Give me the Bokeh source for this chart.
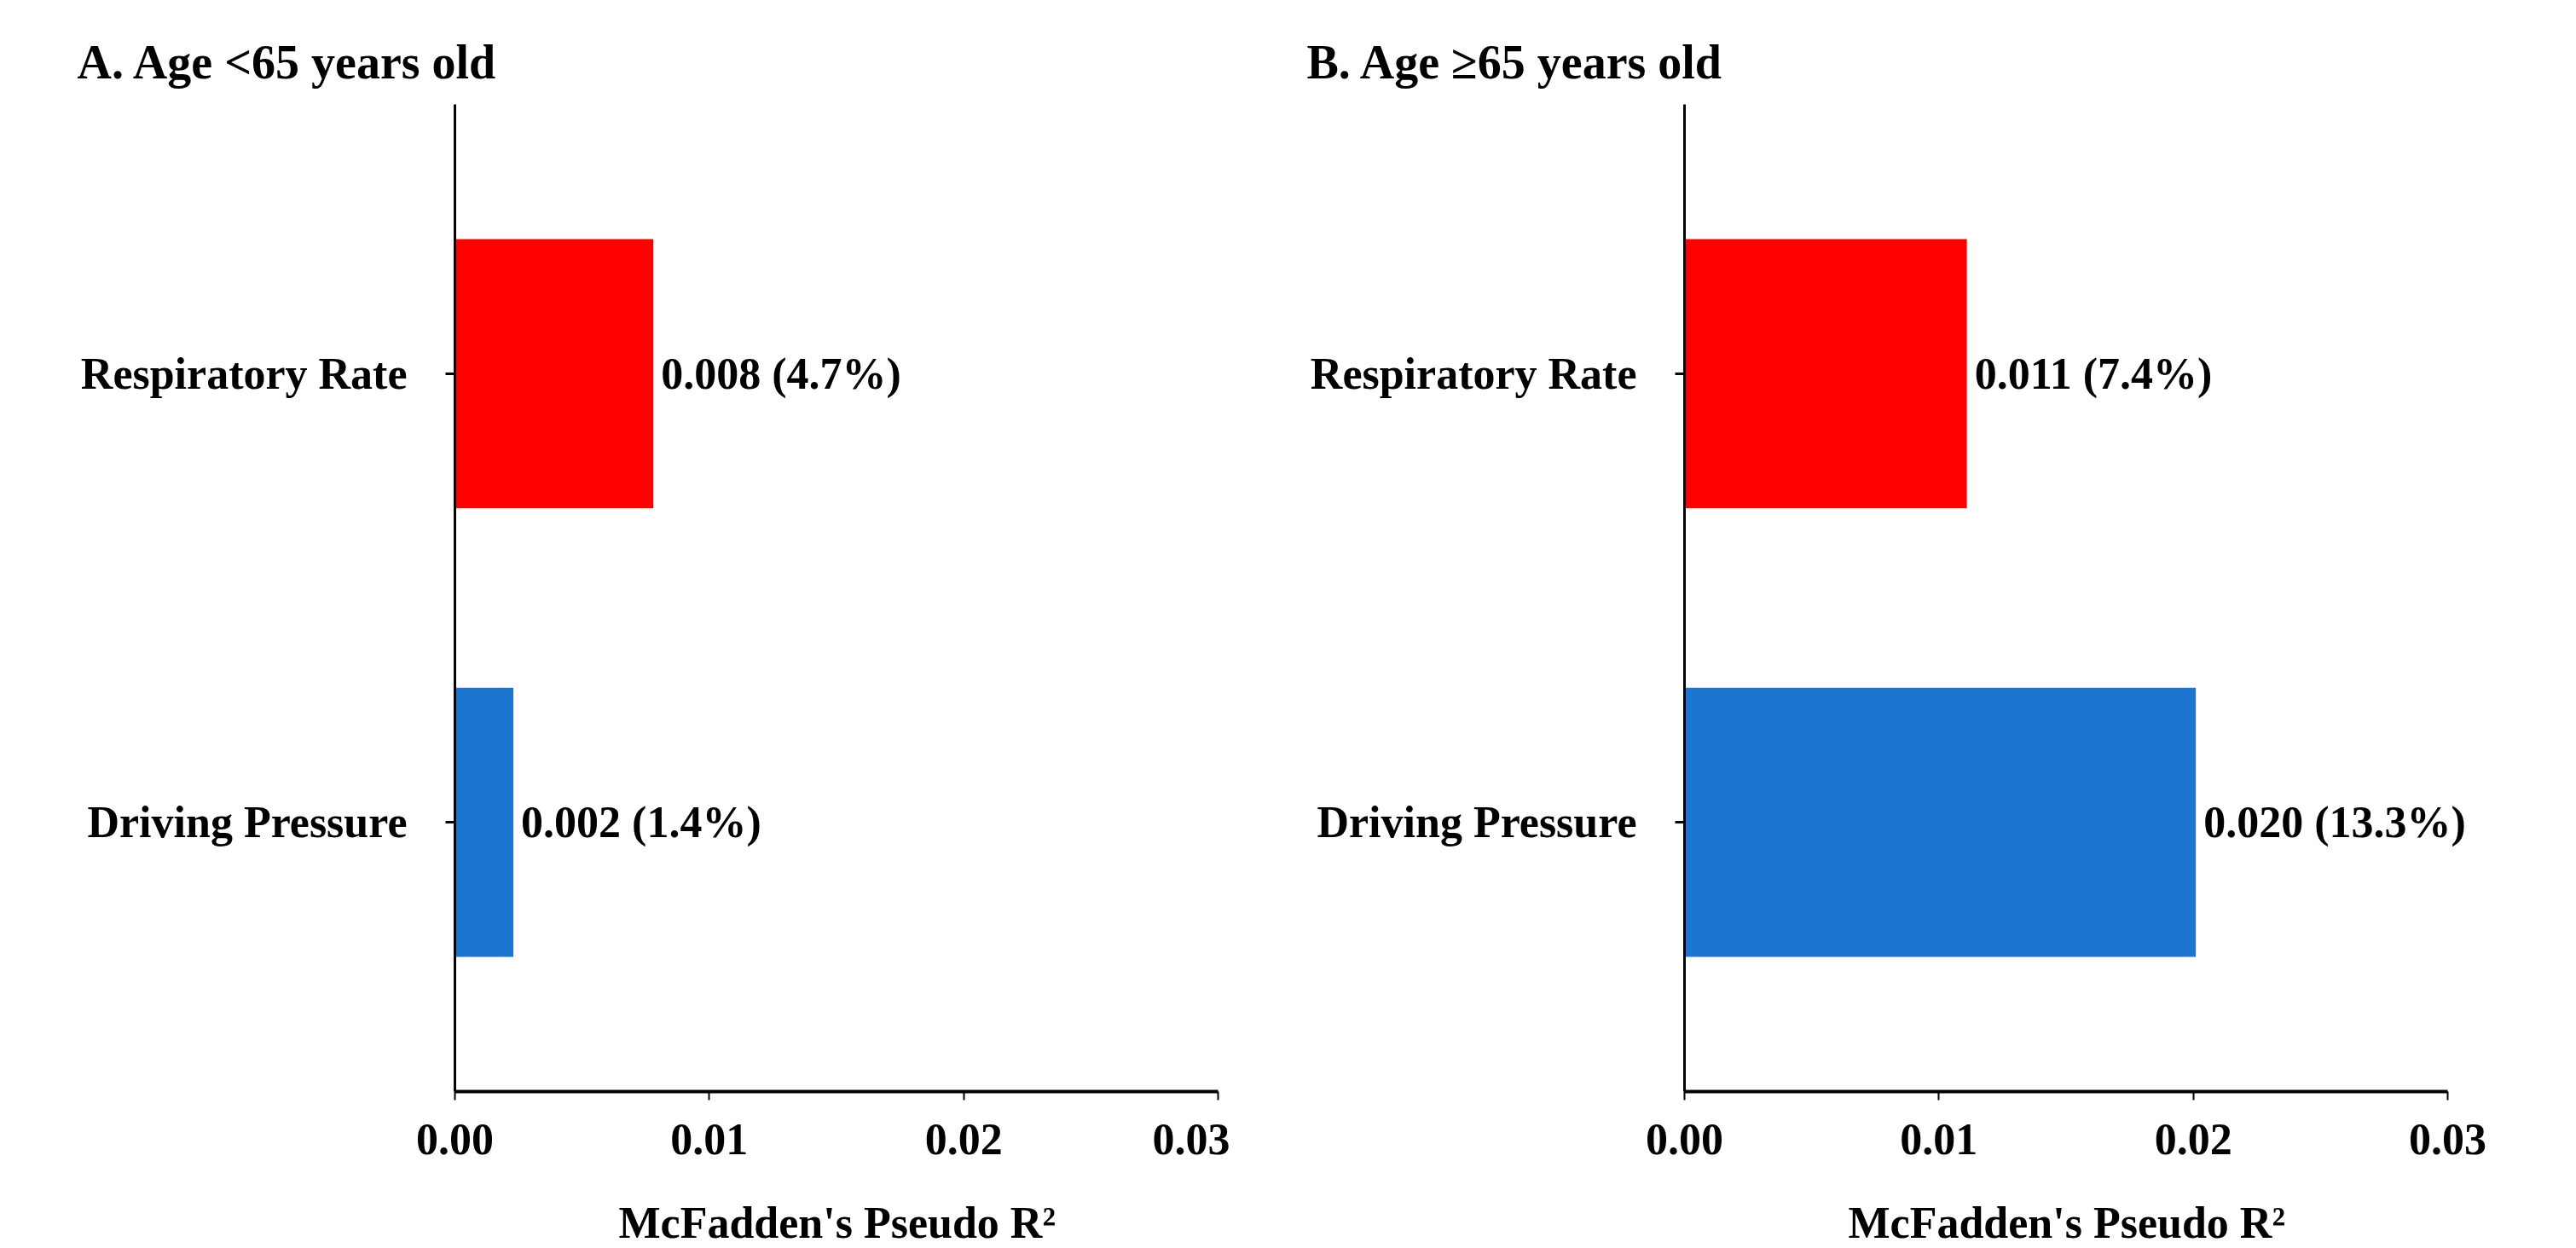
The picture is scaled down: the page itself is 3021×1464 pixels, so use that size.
from bokeh.plotting import figure
from bokeh.models import (FactorRange, Range1d, FixedTicker, NumeralTickFormatter, ColumnDataSource,
                          Title, LabelSet)
from bokeh.layouts import row
from bokeh.embed import file_html
from bokeh.resources import INLINE

categories = ["Driving Pressure", "Respiratory Rate"]
bar_colors = ["#1C75CF", "#FF0000"]
r2_under65 = [0.0023, 0.0078]
labels_under65 = ["0.002 (1.4%)", "0.008 (4.7%)"]
r2_over65 = [0.0201, 0.0111]
labels_over65 = ["0.020 (13.3%)", "0.011 (7.4%)"]
titles = ["A. Age <65 years old", "B. Age \u226565 years old"]
x_ticks = [0, 0.01, 0.02, 0.03]
x_label = "McFadden's Pseudo R\u00b2"

FONT = "Liberation Serif"
AXIS_MAX = 0.03
PX_PER_UNIT = 895 / AXIS_MAX


def make_panel(vals, labs, title, frame_w, right_border):
    p = figure(frame_width=frame_w, frame_height=1158, output_backend="svg", toolbar_location=None,
               y_range=FactorRange(factors=categories, range_padding=0.1),
               x_range=Range1d(0, frame_w / PX_PER_UNIT),
               min_border_left=533, min_border_right=right_border, min_border_top=122,
               min_border_bottom=184)
    p.title = Title(text=title, align="left", offset=-443, standoff=38, text_font=FONT,
                    text_font_style="bold", text_font_size="56px", text_color="black")
    src = ColumnDataSource(dict(cat=categories, val=vals, lab=labs, color=bar_colors))
    p.hbar(y="cat", right="val", left=0, height=0.6, fill_color="color", line_color=None, source=src)
    p.add_layout(LabelSet(x="val", y="cat", text="lab", source=src, x_offset=9,
                          text_baseline="middle", text_font=FONT, text_font_style="bold",
                          text_font_size="52px", text_color="black"))
    p.grid.visible = False
    p.outline_line_color = None
    p.background_fill_color = "white"

    xa = p.xaxis[0]
    xa.bounds = (0, AXIS_MAX)
    xa.ticker = FixedTicker(ticks=x_ticks)
    xa.formatter = NumeralTickFormatter(format="0.00")
    xa.axis_line_width = 4
    xa.axis_line_color = "black"
    xa.major_tick_out = 10
    xa.major_tick_in = 0
    xa.major_tick_line_width = 2
    xa.minor_tick_line_color = None
    xa.major_label_standoff = 28
    xa.major_label_text_font = FONT
    xa.major_label_text_font_style = "bold"
    xa.major_label_text_font_size = "52px"
    xa.major_label_text_color = "black"

    # x-axis title, centred under the 0 - 0.03 span of the axis
    p.add_layout(Title(text=x_label, align="left", offset=192, vertical_align="top", standoff=98,
                       text_font=FONT, text_font_style="bold", text_font_size="52px",
                       text_color="black"), "below")

    ya = p.yaxis[0]
    ya.axis_line_width = 3
    ya.axis_line_color = "black"
    ya.major_tick_out = 11
    ya.major_tick_in = 0
    ya.major_tick_line_width = 3
    ya.minor_tick_line_color = None
    ya.major_label_standoff = 45
    ya.major_label_text_font = FONT
    ya.major_label_text_font_style = "bold"
    ya.major_label_text_font_size = "52px"
    ya.major_label_text_color = "black"
    return p


pa = make_panel(r2_under65, labels_under65, titles[0], 895, 14)
pb = make_panel(r2_over65, labels_over65, titles[1], 1030, 0)
layout = row(pa, pb)

open("out.html", "w").write(file_html(layout, INLINE))
